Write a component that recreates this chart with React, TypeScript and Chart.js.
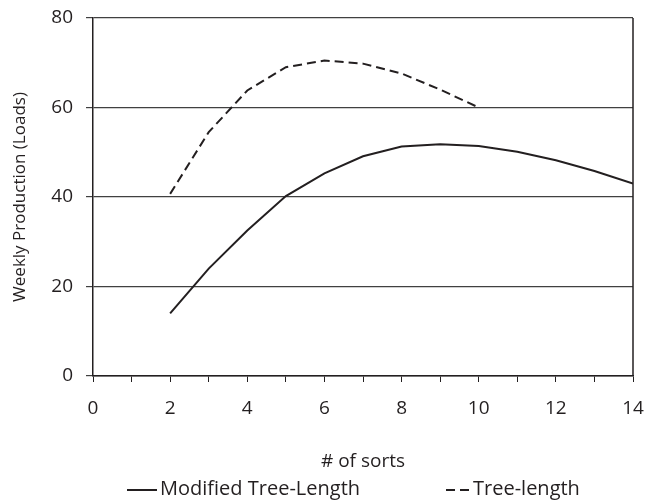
import React, { useEffect, useRef } from "react";
import { Chart, registerables } from "chart.js";

Chart.register(...registerables);

const sortsModified = [2, 3, 4, 5, 6, 7, 8, 9, 10, 11, 12, 13, 14];
const modifiedTreeLength = [14, 24, 32.5, 40.2, 45.3, 49.1, 51.3, 51.8, 51.4, 50.1, 48.2, 45.8, 43];
const sortsTree = [2, 3, 4, 5, 6, 7, 8, 9, 10];
const treeLength = [40.7, 54.5, 63.8, 69, 70.5, 69.8, 67.6, 64, 60];
const seriesNames = ["Modified Tree-Length", "Tree-length"];
const xTitle = "# of sorts";
const yTitle = "Weekly Production (Loads)";

const FONT = "'Open Sans', sans-serif";
const TEXT = "#231f20";

const framePlugin = {
  id: "rightFrame",
  afterDraw(chart: any) {
    const { ctx, chartArea } = chart;
    ctx.save();
    ctx.beginPath();
    ctx.strokeStyle = "#231f20";
    ctx.lineWidth = 1.5;
    ctx.moveTo(chartArea.right, chartArea.top);
    ctx.lineTo(chartArea.right, chartArea.bottom);
    ctx.stroke();
    ctx.restore();
  },
};

const legendPlugin = {
  id: "lineLegend",
  afterDraw(chart: any) {
    const ctx = chart.ctx;
    const y = 490;
    const starts = [127, 446];
    const lens = [30, 24];
    ctx.save();
    chart.data.datasets.forEach((ds: any, i: number) => {
      const x0 = starts[i];
      ctx.beginPath();
      ctx.strokeStyle = ds.borderColor;
      ctx.lineWidth = 2;
      ctx.setLineDash(ds.borderDash || []);
      ctx.moveTo(x0, y);
      ctx.lineTo(x0 + lens[i], y);
      ctx.stroke();
      ctx.setLineDash([]);
      ctx.fillStyle = TEXT;
      ctx.font = `20px ${FONT}`;
      ctx.textBaseline = "middle";
      ctx.textAlign = "left";
      ctx.fillText(ds.label, x0 + lens[i] + 3, y - 1);
    });
    ctx.restore();
  },
};

export default function App() {
  const ref = useRef<HTMLCanvasElement>(null);
  useEffect(() => {
    if (!ref.current) return;
    const chart = new Chart(ref.current, {
      type: "line",
      data: {
        datasets: [
          {
            label: seriesNames[0],
            data: sortsModified.map((x, i) => ({ x, y: modifiedTreeLength[i] })),
            borderColor: "#231f20",
            borderWidth: 2,
            pointRadius: 0,
            tension: 0,
            fill: false,
          },
          {
            label: seriesNames[1],
            data: sortsTree.map((x, i) => ({ x, y: treeLength[i] })),
            borderColor: "#231f20",
            borderWidth: 2,
            borderDash: [9, 5],
            pointRadius: 0,
            tension: 0,
            fill: false,
          },
        ],
      },
      options: {
        animation: false,
        responsive: true,
        maintainAspectRatio: false,
        layout: { padding: { left: 10, right: 13, top: 18, bottom: 29 } },
        plugins: {
          legend: { display: false },
          tooltip: { enabled: false },
        },
        scales: {
          x: {
            type: "linear",
            min: 0,
            max: 14,
            afterFit: (axis: any) => {
              axis.height = 98;
              axis.paddingLeft = 0;
              axis.paddingRight = 0;
            },
            ticks: {
              stepSize: 1,
              autoSkip: false,
              maxRotation: 0,
              padding: 15,
              color: TEXT,
              font: { family: FONT, size: 19 },
              callback: (v: any) => (Number(v) % 2 === 0 ? String(v) : ""),
            },
            grid: {
              drawOnChartArea: false,
              drawTicks: true,
              tickLength: 6,
              color: "#231f20",
              lineWidth: 1,
            },
            border: { display: true, color: "#231f20", width: 1.5 },
            title: {
              display: true,
              text: xTitle,
              color: TEXT,
              font: { family: FONT, size: 19 },
              padding: { top: 0, bottom: 1 },
            },
          },
          y: {
            min: 0,
            max: 80,
            afterFit: (axis: any) => {
              axis.width = 83;
              axis.paddingTop = 0;
              axis.paddingBottom = 0;
            },
            ticks: {
              stepSize: 20,
              padding: 13,
              color: TEXT,
              font: { family: FONT, size: 19 },
            },
            grid: {
              drawTicks: true,
              tickLength: 7,
              color: "#404040",
              lineWidth: 1.2,
            },
            border: { display: true, color: "#231f20", width: 1.5 },
            title: {
              display: true,
              text: yTitle,
              color: TEXT,
              font: { family: FONT, size: 17 },
              padding: { top: 0, bottom: 0 },
            },
          },
        },
      },
      plugins: [framePlugin, legendPlugin],
    } as any);
    return () => chart.destroy();
  }, []);
  return (
    <div style={{ position: "fixed", left: 0, top: 0, width: 646, height: 503, background: "#fff" }}>
      <canvas ref={ref} />
    </div>
  );
}
